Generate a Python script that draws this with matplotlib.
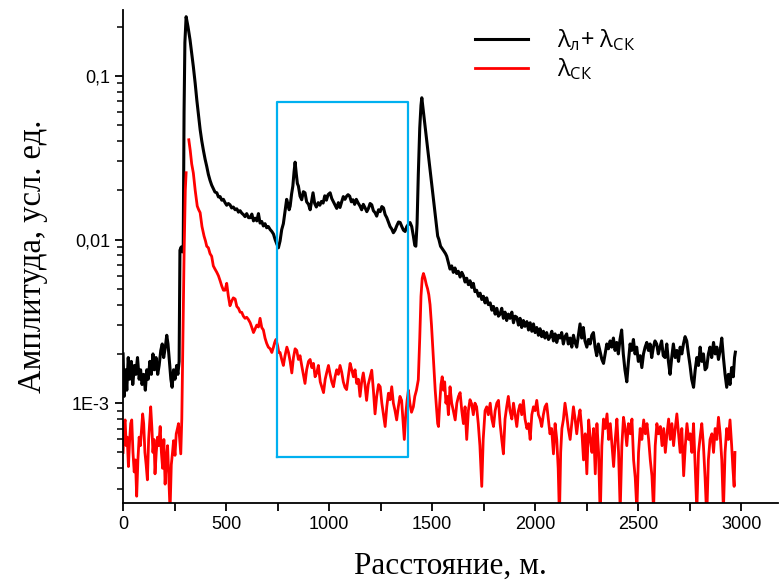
import numpy as np
import matplotlib
matplotlib.use("Agg")
import matplotlib.pyplot as plt
from matplotlib.ticker import FixedLocator, FixedFormatter, LogLocator, MultipleLocator, NullFormatter

# distance, m  /  amplitude in units of 1e-3
black_x = [0, 5, 12, 18, 25, 32, 40, 47, 55, 62, 70, 78, 85, 92, 100, 108, 115, 122, 130, 137,
           145, 152, 160, 168, 175, 183, 190, 197, 205, 212, 218, 225, 232, 238, 245, 252, 260, 266, 272, 276,
           282, 288, 292, 296, 300, 306, 315, 325, 333, 341, 350, 358, 366, 374, 382, 390, 398, 406, 414, 422,
           430, 438, 446, 455, 463, 471, 479, 487, 495, 503, 511, 519, 527, 535, 544, 552, 560, 568, 576, 584,
           592, 600, 609, 617, 625, 633, 641, 649, 657, 665, 673, 681, 689, 697, 705, 714, 722, 730, 738, 746,
           754, 762, 770, 778, 786, 794, 800, 806, 811, 818, 824, 830, 835, 841, 846, 851, 859, 867, 875, 883,
           891, 900, 908, 915, 922, 930, 938, 947, 955, 963, 971, 979, 987, 995, 1005, 1013, 1021, 1029, 1037, 1045,
           1053, 1061, 1069, 1077, 1085, 1092, 1100, 1108, 1116, 1124, 1132, 1140, 1150, 1158, 1166, 1175, 1183, 1191, 1199, 1207,
           1215, 1223, 1231, 1240, 1248, 1256, 1264, 1272, 1280, 1288, 1296, 1304, 1312, 1320, 1328, 1337, 1345, 1353, 1361, 1369,
           1377, 1385, 1393, 1401, 1409, 1416, 1421, 1427, 1433, 1440, 1446, 1450, 1460, 1470, 1480, 1490, 1500, 1510, 1520, 1527,
           1533, 1541, 1549, 1557, 1565, 1571, 1579, 1587, 1595, 1603, 1611, 1619, 1627, 1636, 1644, 1652, 1660,
           1668, 1676, 1684, 1692, 1700, 1708, 1716, 1725, 1733, 1741, 1749, 1757, 1765, 1773, 1782, 1790, 1798, 1806, 1814, 1822,
           1830, 1838, 1846, 1854, 1862, 1870, 1878, 1887, 1895, 1903, 1911, 1919, 1927, 1935, 1943, 1951, 1960, 1968, 1976, 1984,
           1992, 2000, 2008, 2016, 2024, 2032, 2040, 2048, 2056, 2065, 2073, 2081, 2089, 2097, 2105, 2113, 2121, 2129, 2137, 2145,
           2153, 2161, 2170, 2178, 2186, 2194, 2202, 2210, 2218, 2226, 2234, 2242, 2251, 2259, 2267, 2275, 2283, 2291, 2299, 2307,
           2316, 2324, 2332, 2340, 2348, 2356, 2364, 2372, 2380, 2388, 2396, 2404, 2412, 2420, 2428, 2436, 2445, 2453, 2461, 2469,
           2477, 2485, 2493, 2501, 2510, 2518, 2526, 2534, 2542, 2550, 2558, 2566, 2574, 2582, 2590, 2598, 2606, 2614, 2622, 2631,
           2639, 2647, 2655, 2663, 2671, 2680, 2688, 2696, 2704, 2712, 2720, 2728, 2736, 2744, 2752, 2760, 2769, 2777, 2785, 2793,
           2801, 2809, 2817, 2825, 2833, 2841, 2849, 2857, 2866, 2874, 2882, 2890, 2898, 2906, 2914, 2922, 2930, 2938, 2946, 2954,
           2962, 2968, 2972]
black_y = [2.0, 1.1, 1.6, 1.2, 1.9, 1.4, 1.8, 1.3, 1.7, 1.5, 1.9, 1.4, 1.6, 1.3, 1.5, 1.2, 1.6, 1.4, 1.8, 1.5,
           2.0, 1.6, 1.9, 1.5, 1.7, 2.1, 2.3, 1.9, 2.2, 2.6, 2.3, 1.8, 1.4, 1.25, 1.6, 1.4, 1.7, 1.5, 1.8, 8.6,
           9.0, 8.4, 9.3, 60, 160, 230, 200, 166, 138, 114, 90, 71, 58, 47, 40, 35, 31, 28, 25, 23,
           21.5, 20.5, 19.5, 19.3, 18.2, 18.3, 17.4, 17.6, 16.8, 16.2, 16.6, 16.3, 15.6, 15.8, 15.2, 15.4, 14.7, 15.0, 14.5, 14.2,
           13.8, 14.4, 13.6, 13.6, 14.3, 13.0, 13.5, 13.0, 14.4, 12.6, 12.9, 12.1, 12.5, 11.8, 12.0, 11.5, 11.2, 10.8, 10.0, 9.4,
           8.9, 9.8, 11.5, 12.5, 14.8, 17.6, 16.5, 15.2, 16.0, 19.0, 21.2, 26.0, 29.7, 25.0, 22.0, 21.2, 18.4, 17.5, 19.6, 19.3,
           17.0, 16.4, 15.2, 17.2, 19.3, 16.6, 15.8, 16.8, 16.2, 17.1, 16.7, 18.5, 17.4, 18.8, 19.3, 17.8, 17.0, 16.2, 15.5, 16.8,
           15.7, 17.0, 18.3, 17.6, 18.4, 18.8, 18.4, 17.0, 17.5, 16.4, 17.6, 16.8, 16.0, 15.2, 16.4, 15.6, 14.8, 15.5, 16.6, 16.3,
           15.0, 14.6, 13.9, 15.2, 14.8, 15.9, 15.6, 14.2, 13.6, 12.8, 12.0, 11.6, 11.0, 11.4, 12.1, 12.8, 12.7, 12.0, 11.4, 11.2,
           12.0, 12.4, 12.7, 12.0, 10.5, 9.2, 9.1, 12.5, 25, 48, 66, 73.5, 57, 44, 34, 26.7, 20.7, 16.1, 12.5, 10.5,
           10.0, 9.1, 8.8, 8.5, 8.2, 7.9, 7.2, 6.6, 6.9, 6.3, 6.7, 6.2, 6.4, 5.9, 6.3, 6.0, 5.5,
           5.8, 5.3, 5.6, 5.1, 5.4, 4.8, 4.9, 4.5, 4.7, 4.3, 4.5, 4.1, 4.4, 4.0, 4.1, 3.7, 3.9, 3.5, 3.8, 3.4,
           3.5, 3.8, 3.3, 3.6, 3.2, 3.5, 3.3, 3.6, 3.1, 3.4, 3.35, 3.0, 3.3, 2.9, 3.2, 2.95, 3.15, 2.8, 3.1, 2.75,
           3.05, 2.7, 2.9, 2.6, 2.85, 2.55, 2.75, 2.5, 2.7, 2.45, 2.55, 2.75, 2.4, 2.65, 2.35, 2.6, 2.5, 2.7, 2.3, 2.55,
           2.65, 2.3, 2.5, 2.2, 2.6, 2.35, 2.2, 2.6, 3.05, 2.5, 2.9, 2.4, 2.2, 2.45, 2.3, 2.6, 2.7, 2.2, 1.95, 2.3,
           2.05, 1.85, 1.75, 2.0, 2.3, 2.15, 2.4, 2.2, 2.5, 2.1, 2.35, 2.0, 2.45, 2.8, 2.0, 1.6, 1.35, 1.8, 2.3, 2.1,
           2.45, 2.0, 2.2, 1.8, 1.95, 1.65, 2.0, 2.2, 2.35, 2.1, 2.3, 1.9, 2.2, 2.4, 2.3, 2.0, 2.2, 2.4, 1.95, 1.9,
           2.3, 1.8, 1.5, 1.9, 2.3, 1.9, 2.1, 1.8, 2.2, 2.0, 2.3, 2.55, 2.4, 2.0, 1.7, 1.4, 1.25, 1.6, 1.9, 1.7,
           2.2, 1.8, 2.0, 1.6, 1.65, 2.0, 2.2, 1.9, 2.35, 2.0, 2.2, 1.85, 2.1, 2.5, 1.9, 1.5, 1.25, 1.5, 1.3, 1.65,
           1.45, 1.9, 2.05]

red_x = [0, 5, 10, 15, 20, 26, 32, 37, 42, 48, 54, 60, 66, 72, 78, 84, 90, 95, 100, 106,
         112, 118, 124, 130, 134, 140, 145, 150, 155, 161, 167, 173, 180, 186, 192, 198, 204, 210, 216, 222,
         228, 234, 240, 245, 252, 258, 264, 269, 275, 280, 285, 290, 296, 302, 306, 312, 319, 326, 333, 341,
         350, 360, 367, 374, 383, 393, 400, 406, 414, 422, 430, 438, 446, 455, 463, 471, 479, 487, 495, 503,
         511, 519, 527, 535, 544, 552, 560, 568, 576, 584, 592, 600, 608, 617, 625, 633, 641, 649, 657, 665,
         673, 681, 689, 697, 705, 714, 722, 730, 736, 742, 750, 756, 762, 770, 778, 786, 795, 803, 811, 819,
         827, 835, 843, 851, 859, 867, 875, 883, 891, 900, 908, 916, 924, 932, 940, 948, 957, 965, 973, 981,
         989, 997, 1005, 1013, 1021, 1029, 1037, 1045, 1053, 1061, 1069, 1077, 1085, 1093, 1102, 1110, 1118, 1126, 1134, 1142,
         1150, 1158, 1166, 1174, 1182, 1190, 1199, 1207, 1215, 1223, 1231, 1240, 1248, 1256, 1264, 1272, 1280, 1288, 1296, 1304,
         1312, 1320, 1328, 1336, 1344, 1352, 1358, 1365, 1372, 1379, 1385, 1392, 1400, 1409, 1416, 1424, 1433, 1440, 1446, 1452,
         1458, 1465, 1472, 1478, 1484, 1490, 1497, 1503, 1509, 1515, 1521, 1527, 1531, 1537, 1543, 1549, 1555, 1561, 1567, 1573,
         1579, 1587, 1595, 1603, 1612, 1620, 1628, 1636, 1644, 1652, 1660, 1668, 1676, 1684, 1692, 1700, 1708, 1716, 1724, 1732,
         1741, 1748, 1757, 1765, 1773, 1782, 1790, 1798, 1806, 1814, 1822, 1830, 1838, 1846, 1854, 1862, 1870, 1878, 1887, 1895,
         1903, 1911, 1919, 1927, 1935, 1943, 1951, 1960, 1968, 1976, 1984, 1992, 2000, 2008, 2016, 2024, 2032, 2040, 2048, 2056,
         2064, 2072, 2080, 2089, 2097, 2105, 2112, 2118, 2124, 2130, 2137, 2145, 2153, 2161, 2170, 2178, 2186, 2194, 2202, 2210,
         2218, 2226, 2235, 2243, 2251, 2260, 2268, 2276, 2284, 2292, 2300, 2308, 2316, 2324, 2332, 2340, 2349, 2357, 2365, 2373,
         2381, 2389, 2397, 2405, 2413, 2421, 2429, 2437, 2445, 2453, 2462, 2470, 2478, 2486, 2494, 2502, 2510, 2518, 2527, 2535,
         2543, 2551, 2559, 2567, 2575, 2583, 2591, 2599, 2608, 2616, 2624, 2632, 2640, 2648, 2656, 2664, 2672, 2680, 2688, 2696,
         2704, 2712, 2721, 2729, 2737, 2745, 2753, 2761, 2769, 2777, 2785, 2793, 2801, 2809, 2817, 2825, 2833, 2841, 2849, 2858,
         2866, 2874, 2882, 2890, 2898, 2906, 2914, 2922, 2930, 2938, 2946, 2954, 2960, 2966, 2970]
red_y = [0.5, 0.75, 0.79, 0.55, 0.62, 0.41, 0.6, 0.75, 0.79, 0.5, 0.38, 0.45, 0.27, 0.45, 0.62, 0.55, 0.7, 0.86, 0.75, 0.5,
         0.42, 0.34, 0.6, 0.8, 0.95, 0.7, 0.5, 0.6, 0.37, 0.5, 0.62, 0.55, 0.72, 0.5, 0.4, 0.6, 0.32, 0.45, 0.55, 0.35,
         0.22, 0.42, 0.5, 0.59, 0.48, 0.65, 0.7, 0.75, 0.6, 0.49, 0.8, 2.2, 8.0, 20, 25.6, np.nan, 40.7, 35, 29, 25.5,
         20, 16.0, 15.2, 14.6, 12.0, 10.5, 9.8, 9.1, 8.9, 8.2, 7.9, 6.9, 6.6, 6.3, 6.0, 5.6, 5.2, 4.9, 4.9, 5.4,
         4.5, 3.94, 4.2, 4.4, 4.33, 3.9, 3.8, 3.6, 3.59, 3.4, 3.3, 3.35, 3.25, 3.1, 2.9, 2.7, 2.85, 3.0, 2.92, 3.3,
         2.9, 2.8, 2.5, 2.32, 2.2, 2.15, 2.04, 2.2, 2.35, 2.45, 2.25, 2.04, 2.04, 1.85, 1.7, 1.95, 2.2, 2.04, 1.8, 1.53,
         1.9, 2.15, 2.1, 1.85, 1.95, 1.7, 1.5, 1.32, 1.6, 1.8, 1.85, 1.65, 1.75, 1.45, 1.53, 1.7, 1.35, 1.25, 1.16, 1.4,
         1.55, 1.7, 1.5, 1.35, 1.26, 1.45, 1.6, 1.5, 1.7, 1.55, 1.35, 1.25, 1.21, 1.45, 1.75, 1.6, 1.45, 1.6, 1.32, 1.4,
         1.1, 1.35, 1.53, 1.3, 1.04, 1.3, 1.45, 1.59, 1.2, 0.86, 1.1, 1.3, 1.26, 1.0, 0.85, 0.72, 0.95, 1.15, 1.05, 1.26,
         1.0, 0.9, 0.79, 0.95, 1.1, 1.04, 0.8, 0.6, 0.85, 1.05, 1.2, 1.0, 0.88, 0.95, 1.1, 1.2, 1.39, 2.5, 4.5, 5.8,
         6.2, 5.8, 5.3, 5.0, 4.6, 4.0, 3.0, 2.2, 1.6, 1.2, 0.95, 0.75, 0.72, 1.0, 1.3, 1.45, 1.2, 1.35, 1.0, 1.1,
         0.85, 1.26, 1.0, 0.9, 0.79, 1.0, 1.1, 1.16, 0.9, 0.75, 0.95, 0.6, 0.9, 1.05, 0.99, 0.85, 1.0, 0.95, 0.75, 0.55,
         0.31, 0.6, 0.9, 0.95, 0.85, 1.0, 0.8, 0.72, 0.9, 1.0, 1.04, 0.75, 0.6, 0.49, 0.8, 0.95, 1.1, 0.9, 0.8, 1.0,
         0.85, 0.72, 0.9, 0.98, 0.85, 1.04, 0.8, 0.7, 0.75, 0.6, 0.85, 0.95, 0.9, 1.04, 0.85, 0.8, 0.72, 0.85, 0.95, 0.99,
         0.8, 0.65, 0.7, 0.49, 0.75, 0.6, 0.4, 0.2, 0.5, 0.7, 0.79, 1.0, 0.85, 0.7, 0.6, 0.75, 0.95, 0.8, 0.65, 0.8,
         0.91, 0.7, 0.45, 0.65, 0.37, 0.79, 0.6, 0.5, 0.7, 0.37, 0.75, 0.5, 0.2, 0.55, 0.8, 0.7, 0.86, 0.6, 0.75, 0.55,
         0.41, 0.6, 0.8, 0.5, 0.22, 0.55, 0.82, 0.7, 0.55, 0.75, 0.65, 0.8, 0.45, 0.35, 0.22, 0.5, 0.7, 0.6, 0.79, 0.65,
         0.75, 0.6, 0.45, 0.36, 0.22, 0.55, 0.75, 0.65, 0.72, 0.55, 0.7, 0.5, 0.65, 0.8, 0.6, 0.75, 0.55, 0.7, 0.86, 0.65,
         0.5, 0.7, 0.36, 0.55, 0.75, 0.6, 0.65, 0.5, 0.75, 0.4, 0.22, 0.5, 0.62, 0.75, 0.55, 0.35, 0.2, 0.45, 0.6, 0.65,
         0.5, 0.7, 0.6, 0.82, 0.65, 0.45, 0.22, 0.5, 0.7, 0.6, 0.79, 0.55, 0.4, 0.31, 0.5]

# highlighted section (m) and its amplitude span
box_x = [748, 1383]
box_y = [4.7e-4, 0.069]

legend_labels = [r"λ$_{\mathrm{л}}$+ λ$_{\mathrm{СК}}$", r"λ$_{\mathrm{СК}}$"]
y_major = [1e-3, 1e-2, 1e-1]
y_major_labels = ["1E-3", "0,01", "0,1"]
x_major = [0, 500, 1000, 1500, 2000, 2500, 3000]

plt.rcParams["mathtext.fontset"] = "custom"
plt.rcParams["mathtext.rm"] = "Open Sans"
plt.rcParams["mathtext.it"] = "Open Sans:italic"

fig = plt.figure(figsize=(7.79, 5.83), dpi=100)
ax = fig.add_axes([0.158, 0.137, 0.841, 0.846])

ax.plot(black_x, np.array(black_y) * 1e-3, color="black", lw=2.2, label=legend_labels[0])
ax.plot(red_x, np.array(red_y) * 1e-3, color="#ff0000", lw=2.0, label=legend_labels[1])

ax.plot([box_x[0], box_x[1], box_x[1], box_x[0], box_x[0]],
        [box_y[0], box_y[0], box_y[1], box_y[1], box_y[0]],
        color="#00b0f0", lw=1.6)

ax.set_yscale("log")
ax.set_xlim(0, 3180)
ax.set_ylim(2.45e-4, 0.253)

ax.spines["top"].set_visible(False)
ax.spines["right"].set_visible(False)
for s in ["left", "bottom"]:
    ax.spines[s].set_linewidth(1.3)

ax.yaxis.set_major_locator(FixedLocator(y_major))
ax.yaxis.set_major_formatter(FixedFormatter(y_major_labels))
ax.yaxis.set_minor_locator(LogLocator(base=10, subs=np.arange(2, 10)))
ax.yaxis.set_minor_formatter(NullFormatter())
ax.xaxis.set_major_locator(FixedLocator(x_major))
ax.xaxis.set_minor_locator(MultipleLocator(250))

ax.tick_params(which="major", direction="out", length=6, width=1.3, labelsize=13)
ax.tick_params(axis="y", which="minor", direction="out", length=4, width=1.1)
ax.tick_params(axis="x", which="minor", direction="out", length=6, width=1.3)
for lab in ax.get_xticklabels() + ax.get_yticklabels():
    lab.set_fontfamily("Liberation Sans")

ax.set_xlabel("Расстояние, м.", fontsize=22.5, family="Liberation Serif", labelpad=13)
ax.set_ylabel("Амплитуда, усл. ед.", fontsize=23.5, family="Liberation Serif", labelpad=17)

ax.legend(loc="upper left", bbox_to_anchor=(0.505, 1.008), frameon=False,
          handlelength=2.25, handletextpad=1.2, labelspacing=0.15,
          prop={"family": "Open Sans", "size": 17})

fig.savefig("out.png", dpi=100)
